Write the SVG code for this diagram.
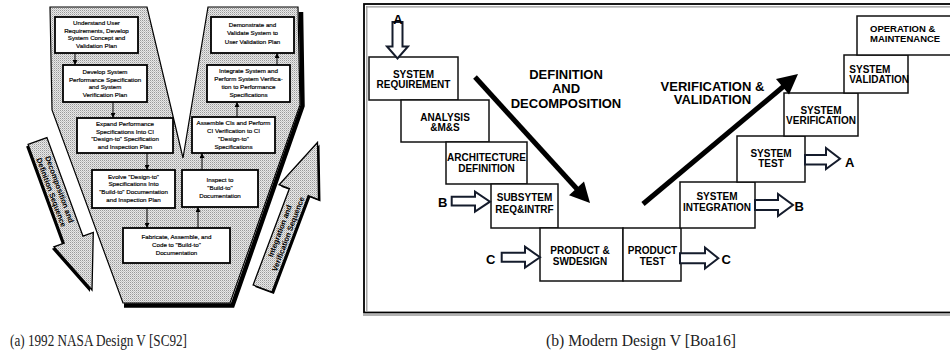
<svg xmlns="http://www.w3.org/2000/svg" width="950" height="354" viewBox="0 0 950 354">
<defs>
<pattern id="dither" width="2" height="2" patternUnits="userSpaceOnUse">
<rect width="2" height="2" fill="#e8e8e8"/><rect width="1" height="1" fill="#9a9a9a"/><rect x="1" y="1" width="1" height="1" fill="#c4c4c4"/>
</pattern>
<marker id="ah" viewBox="0 0 6 6" refX="6" refY="3" markerWidth="5" markerHeight="5" markerUnits="userSpaceOnUse" orient="auto">
<path d="M0,0 L6,3 L0,6 z" fill="#000"/>
</marker>
<style>
.lt{font-family:"Liberation Sans",Arial,sans-serif;font-size:6.2px;text-anchor:middle;fill:#000;stroke:#000;stroke-width:0.18}
.lbox{fill:#fff;stroke:#000;stroke-width:1.8}
.rbox{fill:#fff;stroke:#111;stroke-width:1.5}
.rt{font-family:"Liberation Sans",Arial,sans-serif;font-weight:bold;font-size:10px;text-anchor:middle;fill:#000}
.rs{font-family:"Liberation Sans",Arial,sans-serif;font-weight:bold;font-size:10px;fill:#000}
.big{font-family:"Liberation Sans",Arial,sans-serif;font-weight:bold;font-size:13px;text-anchor:middle;fill:#000}
.let{font-family:"Liberation Sans",Arial,sans-serif;font-weight:bold;font-size:13px;fill:#000}
.hol{fill:#fff;stroke:#151c2c;stroke-width:2;stroke-linejoin:miter}
.conn{stroke:#000;stroke-width:1;fill:none}
.thick{stroke:#000;stroke-width:5;fill:none}
.seq{font-family:"Liberation Sans",Arial,sans-serif;font-weight:bold;font-size:7.6px;text-anchor:middle;fill:#000}
.cap{font-family:"Liberation Serif","Times New Roman",serif;font-size:16px;fill:#222}
</style>
</defs>
<rect width="950" height="354" fill="#fff"/>

<!-- LEFT PANEL -->
<g id="v-shape">
<path d="M301,12 L302.5,106 L232.5,305.5 L124,305.5" fill="none" stroke="#000" stroke-width="4.5"/>
<polygon points="50,7 147,7 183,158 208,7 298,7 300,105 230,303 123,303 52,110" fill="url(#dither)" stroke="#000" stroke-width="1.2"/>
</g>

<g id="decomp-arrow">
<polygon points="26.1,146.4 44.9,139.6 81,238.2 91.3,234.4 90,292 51.9,248.8 62.2,245" fill="#000"/>
<polygon points="28.1,144.4 46.9,137.6 83,236.2 93.3,232.4 92,290 53.9,246.8 64.2,243" fill="url(#dither)" stroke="#000" stroke-width="1.3"/>
<text class="seq" transform="translate(55.7,190.8) rotate(69.9)"><tspan x="0" y="-1.5">Decomposition and</tspan><tspan x="0" y="7.3">Definition Sequence</tspan></text>
</g>

<g id="integ-arrow">
<polygon points="255.1,287 273.9,294 310.2,197.6 320.5,201.5 319.5,144.5 281.1,186.7 291.4,190.6" fill="#000"/>
<polygon points="253.1,285 271.9,292 308.2,195.6 318.5,199.5 317.5,142.5 279.1,184.7 289.4,188.6" fill="url(#dither)" stroke="#000" stroke-width="1.3"/>
<text class="seq" transform="translate(283.7,232.4) rotate(-69.4)"><tspan x="0" y="-1.5">Integration and</tspan><tspan x="0" y="7.3">Verification Sequence</tspan></text>
</g>

<g id="n-understand">
<rect class="lbox" x="55" y="17" width="83" height="36"/>
<text class="lt" x="96.5" y="25"><tspan x="96.5">Understand User</tspan><tspan x="96.5" dy="7.7">Requirements, Develop</tspan><tspan x="96.5" dy="7.7">System Concept and</tspan><tspan x="96.5" dy="7.7">Validation Plan</tspan></text>
</g>
<g id="n-develop">
<rect class="lbox" x="63" y="65" width="84" height="37"/>
<text class="lt" y="74"><tspan x="105">Develop System</tspan><tspan x="105" dy="7.7">Performance Specification</tspan><tspan x="105" dy="7.7">and System</tspan><tspan x="105" dy="7.7">Verification Plan</tspan></text>
</g>
<g id="n-expand">
<rect class="lbox" x="77" y="118" width="96" height="35"/>
<text class="lt" y="126"><tspan x="125">Expand Performance</tspan><tspan x="125" dy="7.7">Specifications Into CI</tspan><tspan x="125" dy="7.7">"Design-to" Specification</tspan><tspan x="125" dy="7.7">and Inspection Plan</tspan></text>
</g>
<g id="n-evolve">
<rect class="lbox" x="92" y="170" width="83" height="38"/>
<text class="lt" y="178.5"><tspan x="133.5">Evolve "Design-to"</tspan><tspan x="133.5" dy="7.7">Specifications Into</tspan><tspan x="133.5" dy="7.7">"Build-to" Documentation</tspan><tspan x="133.5" dy="7.7">and Inspection Plan</tspan></text>
</g>
<g id="n-fabricate">
<rect class="lbox" x="123" y="228" width="107" height="35"/>
<text class="lt" y="238.5"><tspan x="176.5">Fabricate, Assemble, and</tspan><tspan x="176.5" dy="8.2">Code to "Build-to"</tspan><tspan x="176.5" dy="8.2">Documentation</tspan></text>
</g>
<g id="n-inspect">
<rect class="lbox" x="182" y="170" width="76" height="37"/>
<text class="lt" y="182"><tspan x="220">Inspect to</tspan><tspan x="220" dy="7.9">"Build-to"</tspan><tspan x="220" dy="7.9">Documentation</tspan></text>
</g>
<g id="n-assemble">
<rect class="lbox" x="192" y="117" width="83" height="36"/>
<text class="lt" y="125"><tspan x="233.5">Assemble CIs and Perform</tspan><tspan x="233.5" dy="8">CI Verification to CI</tspan><tspan x="233.5" dy="8">"Design-to"</tspan><tspan x="233.5" dy="8">Specifications</tspan></text>
</g>
<g id="n-integrate">
<rect class="lbox" x="207" y="65" width="83" height="37"/>
<text class="lt" y="73"><tspan x="248.5">Integrate System and</tspan><tspan x="248.5" dy="8">Perform System Verifica-</tspan><tspan x="248.5" dy="8">tion to Performance</tspan><tspan x="248.5" dy="8">Specifications</tspan></text>
</g>
<g id="n-demonstrate">
<rect class="lbox" x="211" y="17" width="83" height="36"/>
<text class="lt" y="27"><tspan x="252.5">Demonstrate and</tspan><tspan x="252.5" dy="8.3">Validate System to</tspan><tspan x="252.5" dy="8.3">User Validation Plan</tspan></text>
</g>

<g id="left-connectors">
<line class="conn" x1="75" y1="53" x2="75" y2="65" marker-end="url(#ah)"/>
<line class="conn" x1="113" y1="102" x2="113" y2="118" marker-end="url(#ah)"/>
<line class="conn" x1="147" y1="153" x2="147" y2="170" marker-end="url(#ah)"/>
<line class="conn" x1="147" y1="208" x2="147" y2="228" marker-end="url(#ah)"/>
<line class="conn" x1="198" y1="228" x2="198" y2="207" marker-end="url(#ah)"/>
<line class="conn" x1="202" y1="170" x2="202" y2="153" marker-end="url(#ah)"/>
<line class="conn" x1="237" y1="117" x2="237" y2="102" marker-end="url(#ah)"/>
<line class="conn" x1="277" y1="65" x2="277" y2="53" marker-end="url(#ah)"/>
</g>

<!-- RIGHT PANEL -->
<g id="frame">
<rect x="364" y="4" width="600" height="308.5" fill="none" stroke="#000" stroke-width="1.8"/>
<path d="M366,6.8 H950 M366.8,6 V311 M363,315 H950" fill="none" stroke="#999" stroke-width="1.3"/>
</g>

<g id="r-sysreq">
<rect class="rbox" x="369" y="57" width="89" height="43"/>
<text class="rt"><tspan x="413.5" y="77.5">SYSTEM</tspan><tspan x="413.5" y="87.8">REQUIREMENT</tspan></text>
</g>
<g id="r-analysis">
<rect class="rbox" x="401" y="100" width="88" height="42"/>
<text class="rt"><tspan x="445" y="120.5">ANALYSIS</tspan><tspan x="445" y="130.8">&amp;M&amp;S</tspan></text>
</g>
<g id="r-arch">
<rect class="rbox" x="446" y="142" width="81" height="42"/>
<text class="rt"><tspan x="486.5" y="160.5">ARCHITECTURE</tspan><tspan x="486.5" y="171.5">DEFINITION</tspan></text>
</g>
<g id="r-subsys">
<rect class="rbox" x="491" y="184" width="67" height="44"/>
<text class="rt"><tspan x="524.5" y="201">SUBSYTEM</tspan><tspan x="524.5" y="212.5">REQ&amp;INTRF</tspan></text>
</g>
<g id="r-product-design">
<rect class="rbox" x="540" y="228" width="83" height="53"/>
<text class="rt"><tspan x="580" y="254">PRODUCT &amp;</tspan><tspan x="580" y="264.5">SWDESIGN</tspan></text>
</g>
<g id="r-product-test">
<rect class="rbox" x="623" y="228" width="58" height="53"/>
<text class="rt"><tspan x="652.5" y="253.5">PRODUCT</tspan><tspan x="652.5" y="264.5">TEST</tspan></text>
</g>
<g id="r-integration">
<rect class="rbox" x="680" y="182" width="75" height="46"/>
<text class="rt"><tspan x="717" y="199.5">SYSTEM</tspan><tspan x="717" y="210.7">INTEGRATION</tspan></text>
</g>
<g id="r-systest">
<rect class="rbox" x="737" y="136" width="68" height="46"/>
<text class="rt"><tspan x="771" y="156.7">SYSTEM</tspan><tspan x="771" y="166.7">TEST</tspan></text>
</g>
<g id="r-verification">
<rect class="rbox" x="784" y="93" width="74" height="43"/>
<text class="rt"><tspan x="821" y="114">SYSTEM</tspan><tspan x="821" y="124">VERIFICATION</tspan></text>
</g>
<g id="r-validation">
<rect class="rbox" x="844" y="55" width="64" height="38"/>
<text class="rs"><tspan x="849.3" y="72.7">SYSTEM</tspan><tspan x="849.3" y="82.5">VALIDATION</tspan></text>
</g>
<g id="r-operation">
<rect class="rbox" x="857" y="16" width="95" height="39"/>
<text class="rs" style="font-size:9.5px"><tspan x="870" y="31.7">OPERATION &amp;</tspan><tspan x="870" y="42.3">MAINTENANCE</tspan></text>
</g>

<g id="labels">
<text class="big"><tspan x="566" y="78.5">DEFINITION</tspan><tspan x="566" y="93">AND</tspan><tspan x="566" y="107.5">DECOMPOSITION</tspan></text>
<text class="big"><tspan x="712.5" y="90.7">VERIFICATION &amp;</tspan><tspan x="712.5" y="104">VALIDATION</tspan></text>
</g>

<g id="right-connectors">
<line class="thick" x1="475" y1="77" x2="577" y2="189"/>
<polygon points="590,203 584,181.5 569,195.3" fill="#000"/>
<line class="thick" x1="643" y1="204" x2="784" y2="86"/>
<polygon points="798,74 789,94.5 776,79" fill="#000"/>
<polygon class="hol" points="392.5,22 402.5,22 402.5,46.5 408,46.5 397.5,58.5 387,46.5 392.5,46.5"/>
<polygon class="hol" points="805,155 826,155 826,148 840,158.7 826,169 826,164.5 805,164.5"/>
<polygon class="hol" points="755,200 778,200 778,194 793,205 778,216 778,210 755,210"/>
<polygon class="hol" points="680,253.3 705,253.3 705,247.5 718.3,258.3 705,268.5 705,263.3 680,263.3"/>
<polygon class="hol" points="451.7,196.7 475,196.7 475,191.7 490,201.7 475,211.7 475,205.5 451.7,205.5"/>
<polygon class="hol" points="501.7,252.7 525,252.7 525,246.7 540,257.3 525,267.5 525,261.7 501.7,261.7"/>
<text class="let" x="398" y="23.5" text-anchor="middle">A</text>
<text class="let" x="845" y="167">A</text>
<text class="let" x="794.5" y="210.7">B</text>
<text class="let" x="721.5" y="264.3">C</text>
<text class="let" x="438" y="206.7">B</text>
<text class="let" x="486" y="264">C</text>
</g>

<g id="captions">
<text class="cap" x="10" y="345.5" textLength="177" lengthAdjust="spacingAndGlyphs">(a) 1992 NASA Design V [SC92]</text>
<text class="cap" x="546" y="345.5" textLength="190" lengthAdjust="spacingAndGlyphs">(b) Modern Design V [Boa16]</text>
</g>
</svg>
